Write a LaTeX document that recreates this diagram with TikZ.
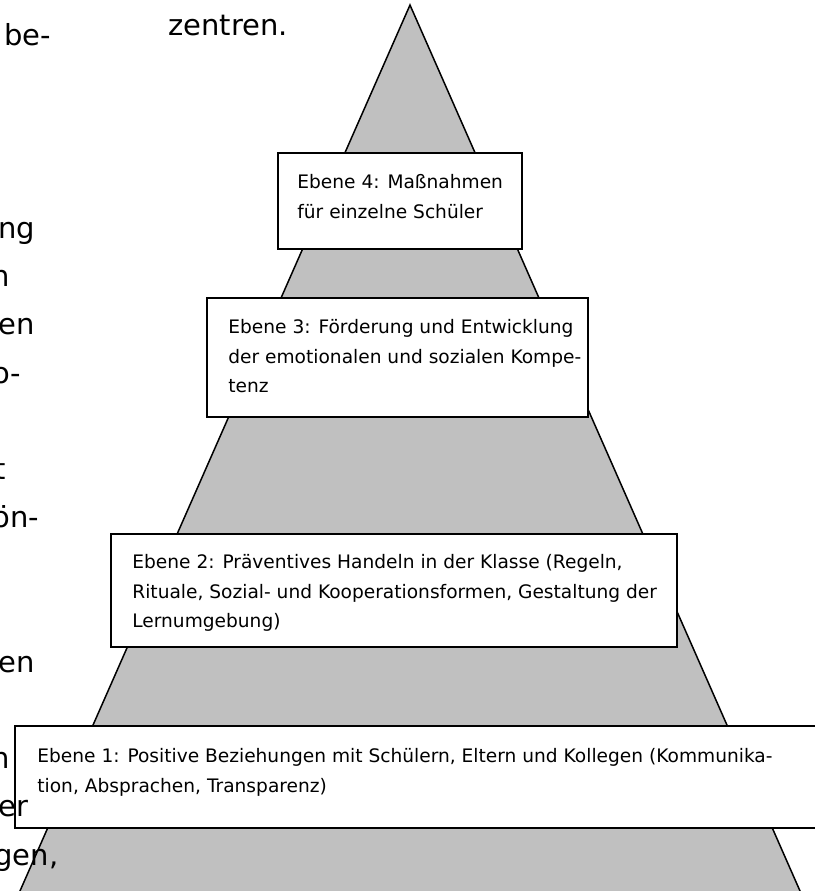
\documentclass[tikz,border=0pt]{standalone}
\usepackage{fontspec}
\setmainfont{DejaVu Sans}
\definecolor{pyramidgrau}{RGB}{192,192,192}
\tikzset{
  ebene/.style={draw=black, fill=white, line width=1pt},
  ebenetext/.style={anchor=north west, inner sep=0pt, align=left, font=\fontsize{9.3}{14.8}\selectfont},
  seitentext/.style={anchor=base west, inner sep=0pt, font=\fontsize{14.5}{20}\selectfont}
}
\begin{document}
\begin{tikzpicture}[x=0.5pt,y=-0.5pt]
\useasboundingbox (0,0) rectangle (815,891);
\clip (0,0) rectangle (815,891);
% Pyramide
\draw [fill=pyramidgrau, line width=0.75pt, line join=miter] (410,5) -- (-6,950) -- (826,950) -- cycle;
% Ebenen
\draw [ebene] (278,153) rectangle (522,249);
\node [ebenetext] (e4) at (297,174) {Ebene 4: Maßnahmen\\für einzelne Schüler};
\draw [ebene] (207,298) rectangle (588,417);
\node [ebenetext] (e3) at (228,319) {Ebene 3: Förderung und Entwicklung\\der emotionalen und sozialen Kompe-\\tenz};
\draw [ebene] (111,534) rectangle (677,647);
\node [ebenetext] (e2) at (132,554) {Ebene 2: Präventives Handeln in der Klasse (Regeln,\\Rituale, Sozial- und Kooperationsformen, Gestaltung der\\Lernumgebung)};
\draw [ebene] (15,726) rectangle (840,828);
\node [ebenetext] (e1) at (37,748) {Ebene 1: Positive Beziehungen mit Schülern, Eltern und Kollegen (Kommunika-\\tion, Absprachen, Transparenz)};
% Fliesstext am Rand
\node [seitentext] (t0) at (4,45) {be-};
\node [seitentext] (z0) at (168,35) {zentren.};
\node [seitentext] (t4) at (-2,238) {ng};
\node [seitentext] (t5) at (-9,286) {n};
\node [seitentext] (t6) at (-2,334) {en};
\node [seitentext] (t7) at (-8,383) {o-};
\node [seitentext] (t9) at (-6,479) {t};
\node [seitentext] (t10) at (-8,527) {ön-};
\node [seitentext] (t13) at (-2,672) {en};
\node [seitentext] (t15) at (-9,768) {n};
\node [seitentext] (t16) at (-2,816) {er};
\node [seitentext] (t17) at (-6,865) {gen,};
\end{tikzpicture}
\end{document}
